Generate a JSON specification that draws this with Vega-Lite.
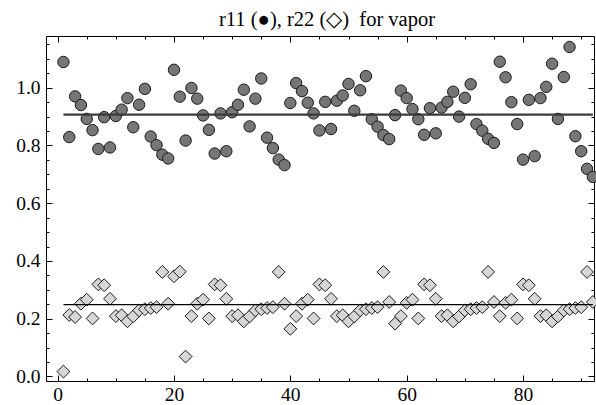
{
  "$schema": "https://vega.github.io/schema/vega-lite/v6.json",
  "width": 548,
  "height": 345,
  "autosize": {"type": "none"},
  "padding": {"left": 46, "top": 36, "right": 2, "bottom": 24},
  "background": "white",
  "title": {"text": "r11 (●), r22 (◇) \u00a0for vapor", "font": "Liberation Serif", "fontSize": 20.5, "fontWeight": "normal", "color": "black", "offset": 5, "dx": 7},
  "config": {
    "view": {"stroke": "black", "strokeWidth": 1},
    "axis": {"grid": false, "domain": false, "labelFont": "Liberation Serif", "labelFontSize": 19.5, "labelColor": "black", "tickColor": "black", "tickWidth": 1, "title": null}
  },
  "datasets": {
    "pts": [
      {"i":1,"r11":1.089,"r22":0.017},{"i":2,"r11":0.829,"r22":0.213},{"i":3,"r11":0.970,"r22":0.206},{"i":4,"r11":0.940,"r22":0.252},
      {"i":5,"r11":0.892,"r22":0.266},{"i":6,"r11":0.853,"r22":0.201},{"i":7,"r11":0.788,"r22":0.319},{"i":8,"r11":0.898,"r22":0.316},
      {"i":9,"r11":0.793,"r22":0.269},{"i":10,"r11":0.902,"r22":0.209},{"i":11,"r11":0.924,"r22":0.212},{"i":12,"r11":0.964,"r22":0.191},
      {"i":13,"r11":0.863,"r22":0.208},{"i":14,"r11":0.941,"r22":0.229},{"i":15,"r11":0.996,"r22":0.233},{"i":16,"r11":0.831,"r22":0.237},
      {"i":17,"r11":0.801,"r22":0.240},{"i":18,"r11":0.768,"r22":0.362},{"i":19,"r11":0.755,"r22":0.252},{"i":20,"r11":1.062,"r22":0.347},
      {"i":21,"r11":0.969,"r22":0.363},{"i":22,"r11":0.817,"r22":0.069},{"i":23,"r11":0.999,"r22":0.209},{"i":24,"r11":0.962,"r22":0.252},
      {"i":25,"r11":0.904,"r22":0.266},{"i":26,"r11":0.854,"r22":0.201},{"i":27,"r11":0.772,"r22":0.319},{"i":28,"r11":0.911,"r22":0.316},
      {"i":29,"r11":0.780,"r22":0.269},{"i":30,"r11":0.915,"r22":0.209},{"i":31,"r11":0.941,"r22":0.212},{"i":32,"r11":0.993,"r22":0.191},
      {"i":33,"r11":0.866,"r22":0.208},{"i":34,"r11":0.962,"r22":0.229},{"i":35,"r11":1.032,"r22":0.233},{"i":36,"r11":0.827,"r22":0.237},
      {"i":37,"r11":0.791,"r22":0.240},{"i":38,"r11":0.751,"r22":0.362},{"i":39,"r11":0.732,"r22":0.252},{"i":40,"r11":0.947,"r22":0.165},
      {"i":41,"r11":1.016,"r22":0.209},{"i":42,"r11":0.988,"r22":0.252},{"i":43,"r11":0.948,"r22":0.266},{"i":44,"r11":0.911,"r22":0.201},
      {"i":45,"r11":0.852,"r22":0.319},{"i":46,"r11":0.951,"r22":0.316},{"i":47,"r11":0.857,"r22":0.269},{"i":48,"r11":0.955,"r22":0.209},
      {"i":49,"r11":0.973,"r22":0.212},{"i":50,"r11":1.013,"r22":0.191},{"i":51,"r11":0.920,"r22":0.208},{"i":52,"r11":0.991,"r22":0.229},
      {"i":53,"r11":1.040,"r22":0.233},{"i":54,"r11":0.891,"r22":0.237},{"i":55,"r11":0.865,"r22":0.240},{"i":56,"r11":0.836,"r22":0.362},
      {"i":57,"r11":0.822,"r22":0.258},{"i":58,"r11":0.905,"r22":0.183},{"i":59,"r11":0.990,"r22":0.209},{"i":60,"r11":0.964,"r22":0.255},
      {"i":61,"r11":0.926,"r22":0.266},{"i":62,"r11":0.891,"r22":0.201},{"i":63,"r11":0.837,"r22":0.319},{"i":64,"r11":0.929,"r22":0.316},
      {"i":65,"r11":0.842,"r22":0.269},{"i":66,"r11":0.931,"r22":0.209},{"i":67,"r11":0.951,"r22":0.212},{"i":68,"r11":0.986,"r22":0.191},
      {"i":69,"r11":0.900,"r22":0.208},{"i":70,"r11":0.965,"r22":0.229},{"i":71,"r11":1.012,"r22":0.233},{"i":72,"r11":0.874,"r22":0.237},
      {"i":73,"r11":0.851,"r22":0.240},{"i":74,"r11":0.823,"r22":0.362},{"i":75,"r11":0.809,"r22":0.258},{"i":76,"r11":1.090,"r22":0.209},
      {"i":77,"r11":1.036,"r22":0.255},{"i":78,"r11":0.950,"r22":0.266},{"i":79,"r11":0.874,"r22":0.201},{"i":80,"r11":0.751,"r22":0.319},
      {"i":81,"r11":0.958,"r22":0.316},{"i":82,"r11":0.763,"r22":0.269},{"i":83,"r11":0.964,"r22":0.209},{"i":84,"r11":1.003,"r22":0.212},
      {"i":85,"r11":1.083,"r22":0.191},{"i":86,"r11":0.892,"r22":0.208},{"i":87,"r11":1.037,"r22":0.229},{"i":88,"r11":1.141,"r22":0.233},
      {"i":89,"r11":0.832,"r22":0.237},{"i":90,"r11":0.780,"r22":0.240},{"i":91,"r11":0.719,"r22":0.362},{"i":92,"r11":0.691,"r22":0.258}
    ],
    "means": [
      {"series":"r11","i":1,"m":0.907},{"series":"r11","i":92,"m":0.907},
      {"series":"r22","i":1,"m":0.249},{"series":"r22","i":92,"m":0.249}
    ]
  },
  "resolve": {"axis": {"x": "independent", "y": "independent"}},
  "layer": [
    {
      "data": {"name": "pts"},
      "mark": {"type": "point", "shape": "circle", "filled": true, "size": 130, "fill": "#767676", "stroke": "#1a1a1a", "strokeWidth": 1, "opacity": 1},
      "encoding": {
        "x": {"field": "i", "type": "quantitative", "scale": {"domain": [-2, 92.2], "nice": false, "zero": false},
              "axis": {"orient": "bottom", "values": [0, 20, 40, 60, 80], "tickSize": -6, "labelPadding": 10.5, "format": "d"}},
        "y": {"field": "r11", "type": "quantitative", "scale": {"domain": [-0.0156, 1.179], "nice": false, "zero": false},
              "axis": {"orient": "left", "values": [0, 0.2, 0.4, 0.6, 0.8, 1.0], "tickSize": -6, "labelPadding": 12, "format": ".1f"}}
      }
    },
    {
      "data": {"name": "pts"},
      "mark": {"type": "point", "shape": "diamond", "filled": true, "size": 165, "fill": "#d6d6d6", "stroke": "#1a1a1a", "strokeWidth": 1, "opacity": 1},
      "encoding": {
        "x": {"field": "i", "type": "quantitative",
              "axis": {"orient": "top", "values": [0, 20, 40, 60, 80], "tickSize": -6, "labels": false}},
        "y": {"field": "r22", "type": "quantitative",
              "axis": {"orient": "right", "values": [0, 0.2, 0.4, 0.6, 0.8, 1.0], "tickSize": -6, "labels": false}}
      }
    },
    {
      "data": {"name": "means"},
      "transform": [{"filter": "datum.series === 'r11'"}],
      "mark": {"type": "line", "color": "#3a3a3a", "strokeWidth": 2.2},
      "encoding": {
        "x": {"field": "i", "type": "quantitative",
              "axis": {"orient": "bottom", "values": [5, 10, 15, 25, 30, 35, 45, 50, 55, 65, 70, 75, 85, 90], "tickSize": -3, "labels": false}},
        "y": {"field": "m", "type": "quantitative",
              "axis": {"orient": "left", "values": [0.05, 0.1, 0.15, 0.25, 0.3, 0.35, 0.45, 0.5, 0.55, 0.65, 0.7, 0.75, 0.85, 0.9, 0.95, 1.05, 1.1, 1.15], "tickSize": -3, "labels": false}}
      }
    },
    {
      "data": {"name": "means"},
      "transform": [{"filter": "datum.series === 'r22'"}],
      "mark": {"type": "line", "color": "#000000", "strokeWidth": 1.3},
      "encoding": {
        "x": {"field": "i", "type": "quantitative",
              "axis": {"orient": "top", "values": [5, 10, 15, 25, 30, 35, 45, 50, 55, 65, 70, 75, 85, 90], "tickSize": -3, "labels": false}},
        "y": {"field": "m", "type": "quantitative",
              "axis": {"orient": "right", "values": [0.05, 0.1, 0.15, 0.25, 0.3, 0.35, 0.45, 0.5, 0.55, 0.65, 0.7, 0.75, 0.85, 0.9, 0.95, 1.05, 1.1, 1.15], "tickSize": -3, "labels": false}}
      }
    }
  ]
}
